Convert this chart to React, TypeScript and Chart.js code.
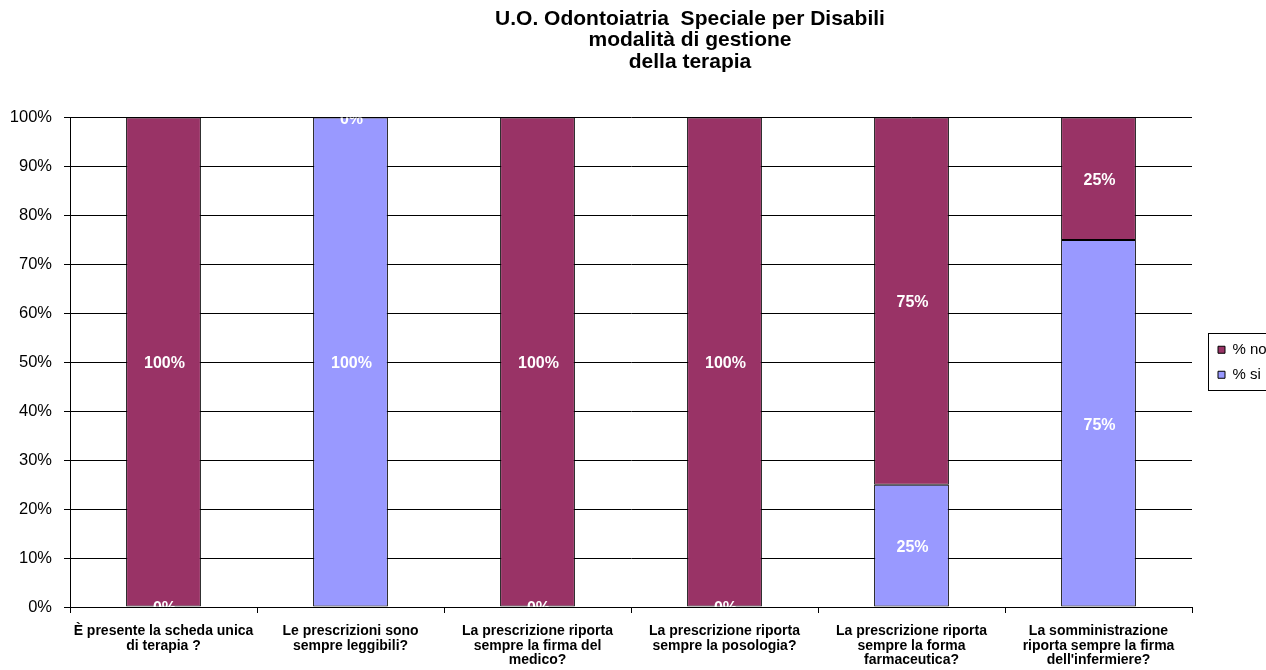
import React, { useEffect, useRef } from "react";
import { Chart, registerables } from "chart.js";

Chart.register(...registerables);

const titleLines = [
  "U.O. Odontoiatria  Speciale per Disabili",
  "modalità di gestione",
  "della terapia",
];

const categories = [
  ["È presente la scheda unica", "di terapia ?"],
  ["Le prescrizioni sono", "sempre leggibili?"],
  ["La prescrizione riporta", "sempre la firma del", "medico?"],
  ["La prescrizione riporta", "sempre la posologia?"],
  ["La prescrizione riporta", "sempre la forma", "farmaceutica?"],
  ["La somministrazione", "riporta sempre la firma", "dell'infermiere?"],
];

const seriesNames = ["% si", "% no"];
const siValues = [0, 100, 0, 0, 25, 75];
const noValues = [100, 0, 100, 100, 75, 25];
const yTickStep = 10;
const yMax = 100;

const FONT = "'Liberation Sans', Arial, Helvetica, sans-serif";
const CANVAS_W = 1380;
const PLOT_RIGHT = 1192;

const segmentLabels = {
  id: "segmentLabels",
  afterDatasetsDraw(chart: any) {
    const { ctx, chartArea } = chart;
    ctx.save();
    ctx.beginPath();
    ctx.rect(
      chartArea.left,
      chartArea.top,
      chartArea.right - chartArea.left,
      chartArea.bottom - chartArea.top
    );
    ctx.clip();
    ctx.fillStyle = "#ffffff";
    ctx.font = `bold 16px ${FONT}`;
    ctx.textAlign = "center";
    ctx.textBaseline = "middle";
    chart.data.datasets.forEach((ds: any, i: number) => {
      const meta = chart.getDatasetMeta(i);
      meta.data.forEach((el: any, j: number) => {
        const p = el.getProps(["x", "y", "base"], true);
        ctx.fillText(ds.data[j] + "%", p.x + 1, (p.y + p.base) / 2 + 2);
      });
    });
    ctx.restore();
  },
};

const legendFrame = {
  id: "legendFrame",
  afterDraw(chart: any) {
    const lg = chart.legend;
    if (!lg || !lg.legendHitBoxes || !lg.legendHitBoxes.length) return;
    const boxes = lg.legendHitBoxes;
    const top = Math.min(...boxes.map((b: any) => b.top)) - 9;
    const bottom = Math.max(...boxes.map((b: any) => b.top + b.height)) + 8;
    const { ctx } = chart;
    ctx.save();
    ctx.strokeStyle = "#000000";
    ctx.lineWidth = 1;
    ctx.strokeRect(
      Math.round(lg.left) + 0.5,
      Math.round(top) + 0.5,
      Math.round(lg.right - lg.left) - 1,
      Math.round(bottom - top)
    );
    ctx.restore();
  },
};

export default function App() {
  const canvasRef = useRef<HTMLCanvasElement | null>(null);

  useEffect(() => {
    if (!canvasRef.current) return;
    Chart.defaults.font.family = FONT;
    const chart = new Chart(canvasRef.current, {
      type: "bar",
      data: {
        labels: categories,
        datasets: [
          {
            label: seriesNames[0],
            data: siValues,
            backgroundColor: "#9999FF",
            borderColor: "#000000",
            borderWidth: 1,
            borderSkipped: false,
            barPercentage: 0.4,
            categoryPercentage: 1,
          },
          {
            label: seriesNames[1],
            data: noValues,
            backgroundColor: "#993366",
            borderColor: "#000000",
            borderWidth: 1,
            borderSkipped: false,
            barPercentage: 0.4,
            categoryPercentage: 1,
          },
        ],
      },
      options: {
        animation: false,
        responsive: true,
        maintainAspectRatio: false,
        events: [],
        layout: { padding: 0 },
        scales: {
          x: {
            stacked: true,
            grid: {
              display: true,
              drawOnChartArea: false,
              drawTicks: true,
              tickLength: 6,
              color: "#000000",
              offset: true,
            },
            border: { display: true, color: "#000000" },
            ticks: {
              color: "#000000",
              font: { size: 14, weight: "bold", lineHeight: "14.5px" },
              padding: 11,
              maxRotation: 0,
              minRotation: 0,
              autoSkip: false,
            },
            afterFit: (s: any) => {
              s.height = 63;
            },
          },
          y: {
            stacked: true,
            min: 0,
            max: yMax,
            ticks: {
              stepSize: yTickStep,
              callback: (v: any) => v + "%",
              color: "#000000",
              font: { size: 16.5 },
              padding: 12,
            },
            grid: { color: "#000000", tickLength: 6, drawTicks: true },
            border: { display: true, color: "#000000" },
            afterFit: (s: any) => {
              s.width = 70;
            },
          },
          spacerIn: {
            type: "linear",
            position: "right",
            display: true,
            weight: 0,
            grid: { display: false, drawTicks: false },
            border: { display: false },
            ticks: { display: false },
            afterFit: (s: any) => {
              s.width = 16;
            },
          },
          spacerOut: {
            type: "linear",
            position: "right",
            display: true,
            weight: 2000,
            grid: { display: false, drawTicks: false },
            border: { display: false },
            ticks: { display: false },
            afterFit: (s: any) => {
              const lw = s.chart.legend ? s.chart.legend.width : 60;
              s.width = Math.max(0, CANVAS_W - PLOT_RIGHT - 16 - lw);
            },
          },
        } as any,
        plugins: {
          title: {
            display: true,
            text: titleLines,
            color: "#000000",
            font: { size: 21, weight: "bold", lineHeight: "21.5px" },
            padding: { top: 8, bottom: 45 },
          },
          legend: {
            display: true,
            position: "right",
            fullSize: false,
            reverse: true,
            labels: {
              color: "#000000",
              boxWidth: 7,
              boxHeight: 7,
              padding: 10,
              font: { size: 15, lineHeight: 1.0 },
            },
          },
          tooltip: { enabled: false },
        } as any,
      },
      plugins: [segmentLabels, legendFrame],
    });
    return () => chart.destroy();
  }, []);

  return (
    <div
      style={{
        position: "fixed",
        left: 0,
        top: 0,
        width: 1266,
        height: 670,
        overflow: "hidden",
        background: "#ffffff",
      }}
    >
      <div style={{ position: "absolute", left: 0, top: 0, width: CANVAS_W, height: 670 }}>
        <canvas ref={canvasRef} />
      </div>
    </div>
  );
}
